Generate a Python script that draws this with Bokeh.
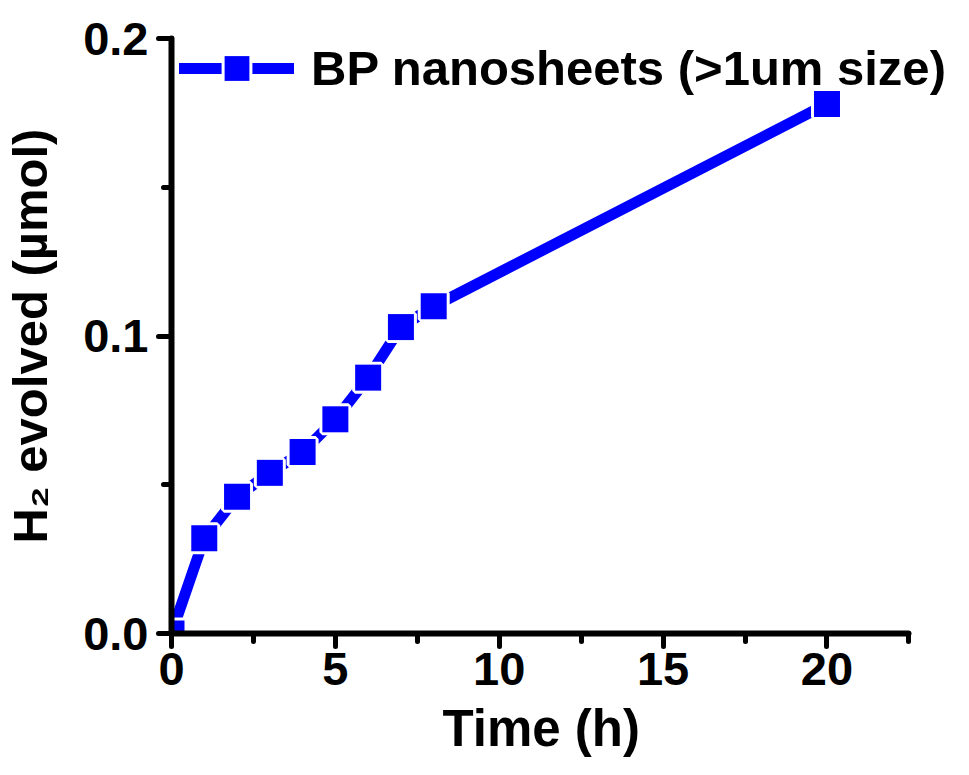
from bokeh.plotting import figure
from bokeh.models import FixedTicker, Range1d, Legend, LegendItem, PrintfTickFormatter, ColumnDataSource
from bokeh.embed import file_html
from bokeh.resources import INLINE

time_h = [0, 1, 2, 3, 4, 5, 6, 7, 8, 20]
h2_umol = [0.0, 0.032, 0.046, 0.054, 0.061, 0.072, 0.086, 0.103, 0.110, 0.178]
x_ticks = [0, 5, 10, 15, 20]
x_minor = [2.5, 7.5, 12.5, 17.5, 22.5]
y_ticks = [0.0, 0.1, 0.2]
y_minor = [0.05, 0.15]
x_axis_end = 22.5
series_name = "BP nanosheets (>1um size)"
x_title = "Time (h)"
y_title = "H\u2082 evolved (\u00b5mol)"

FONT = "Liberation Sans"
BLUE = "#0000FF"

src = ColumnDataSource(dict(x=time_h, y=h2_umol))

p = figure(width=961, height=767, output_backend="svg", toolbar_location=None,
           x_range=Range1d(0, 23.86), y_range=Range1d(0, 0.2),
           title=x_title, title_location="below",
           min_border_left=171, min_border_right=8, min_border_top=38, min_border_bottom=134)
p.outline_line_color = None
p.xgrid.visible = False
p.ygrid.visible = False

p.title.align = "left"
p.title.offset = 271
p.title.text_font = FONT
p.title.text_font_style = "bold"
p.title.text_font_size = "51px"
p.title.text_color = "black"
p.title.standoff = 20

ln = p.line("x", "y", source=src, line_color=BLUE, line_width=11, line_cap="round", line_join="round")
halo = p.scatter("x", "y", source=src, marker="square", size=26, fill_color="white",
                 line_color="white", line_width=6)
sq = p.scatter("x", "y", source=src, marker="square", size=26, fill_color=BLUE, line_color=None)

for ax in (p.xaxis[0], p.yaxis[0]):
    ax.axis_line_width = 6
    ax.axis_line_cap = "round"
    ax.major_tick_line_width = 5
    ax.major_tick_line_cap = "round"
    ax.minor_tick_line_width = 5
    ax.minor_tick_line_cap = "round"
    ax.major_tick_out = 13
    ax.major_tick_in = 0
    ax.minor_tick_out = 8
    ax.minor_tick_in = 0
    ax.major_label_text_font = FONT
    ax.major_label_text_font_style = "bold"
    ax.major_label_text_font_size = "47px"
    ax.major_label_text_color = "black"
    ax.axis_label_text_font = FONT
    ax.axis_label_text_font_style = "bold"
    ax.axis_label_text_font_size = "49px"
    ax.axis_label_text_color = "black"

p.xaxis.bounds = (0, x_axis_end)
p.xaxis.ticker = FixedTicker(ticks=x_ticks, minor_ticks=x_minor)
p.yaxis.ticker = FixedTicker(ticks=y_ticks, minor_ticks=y_minor)
p.yaxis.formatter = PrintfTickFormatter(format="%.1f")
p.yaxis.axis_label = y_title
p.xaxis.major_label_standoff = 6
p.yaxis.major_label_standoff = 10
p.yaxis.axis_label_standoff = 23

legend = Legend(items=[LegendItem(label=series_name, renderers=[ln, halo, sq])],
                location=(8, 534), margin=0, padding=0,
                glyph_width=115, glyph_height=62, label_standoff=17,
                label_text_font=FONT, label_text_font_style="bold",
                label_text_font_size="49px", label_text_color="black",
                background_fill_alpha=0, border_line_color=None)
p.add_layout(legend)

open("out.html", "w").write(file_html(p, INLINE))
